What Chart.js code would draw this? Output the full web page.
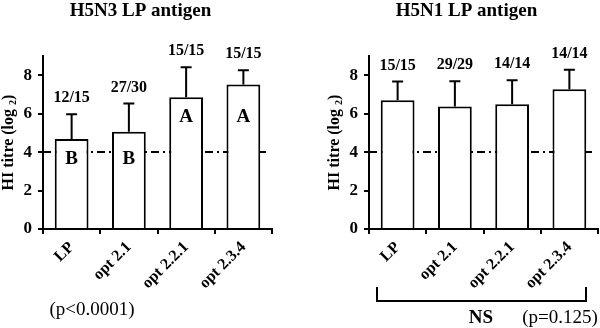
<!DOCTYPE html>
<html><head><meta charset="utf-8">
<script src="https://cdn.jsdelivr.net/npm/chart.js@4/dist/chart.umd.min.js"></script>
<style>
html,body{margin:0;padding:0;background:#fff;width:600px;height:328px;overflow:hidden}
canvas{position:absolute;top:0}
#c1{left:0}
#c2{left:300px}
</style></head><body>
<canvas id="c1" width="300" height="328"></canvas>
<canvas id="c2" width="300" height="328"></canvas>
<script>
// ---- data ----
const categories = ['LP', 'opt 2.1', 'opt 2.2.1', 'opt 2.3.4'];
const h5n3Means = [4.68, 5.06, 6.86, 7.52];
const h5n3SD = [1.29, 1.47, 1.56, 0.74];
const h5n3Responders = ['12/15', '27/30', '15/15', '15/15'];
const h5n3Groups = ['B', 'B', 'A', 'A'];
const h5n1Means = [6.70, 6.37, 6.49, 7.27];
const h5n1SD = [0.97, 1.32, 1.25, 1.01];
const h5n1Responders = ['15/15', '29/29', '14/14', '14/14'];
const h5n1Groups = ['', '', '', ''];
const yTicks = [0, 2, 4, 6, 8];
const yMax = 9;
const cutoff = 4;

const SERIF = "'Liberation Serif','Times New Roman',serif";

function annotPlugin(cfg) {
  return {
    id: 'annot',
    beforeDatasetsDraw(chart) {
      const { ctx, chartArea: a, scales: { y } } = chart;
      const py = y.getPixelForValue(cutoff);
      ctx.save();
      ctx.strokeStyle = '#000';
      ctx.lineWidth = 2;
      ctx.setLineDash([8, 4, 2, 4]);
      ctx.beginPath();
      ctx.moveTo(a.left, py);
      ctx.lineTo(a.right - 6, py);
      ctx.stroke();
      ctx.restore();
    },
    afterDatasetsDraw(chart) {
      const { ctx, chartArea: a, scales: { x, y } } = chart;
      const meta = chart.getDatasetMeta(0);
      ctx.save();
      ctx.strokeStyle = '#000';
      ctx.fillStyle = '#000';
      ctx.lineWidth = 2;
      // error bars + responder labels
      cfg.means.forEach((m, i) => {
        const cx = meta.data[i].x;
        const top = y.getPixelForValue(m);
        const et = y.getPixelForValue(m + cfg.sd[i]);
        ctx.beginPath();
        ctx.moveTo(cx, top);
        ctx.lineTo(cx, et);
        ctx.moveTo(cx - 5.5, et);
        ctx.lineTo(cx + 5.5, et);
        ctx.stroke();
        ctx.font = `bold 16px ${SERIF}`;
        ctx.textAlign = 'center';
        ctx.textBaseline = 'middle';
        ctx.fillText(cfg.responders[i], cx, et - 16);
      });
      // group letters
      const groups = {};
      cfg.groups.forEach((g, i) => {
        if (!g) return;
        const top = y.getPixelForValue(cfg.means[i]);
        groups[g] = Math.max(groups[g] || 0, top);
      });
      ctx.font = `bold 19px ${SERIF}`;
      ctx.textAlign = 'center';
      ctx.textBaseline = 'middle';
      cfg.groups.forEach((g, i) => {
        if (!g) return;
        ctx.fillText(g, meta.data[i].x, groups[g] + 20);
      });
      // title
      ctx.font = `bold 19px ${SERIF}`;
      ctx.textBaseline = 'alphabetic';
      ctx.fillText(cfg.title, (a.left + a.right) / 2 - 17, 16);
      // y title with subscript
      ctx.save();
      ctx.translate(a.left - 34, (a.top + a.bottom) / 2);
      ctx.rotate(-Math.PI / 2);
      ctx.textAlign = 'left';
      ctx.textBaseline = 'middle';
      ctx.font = `bold 16px ${SERIF}`;
      const t1 = 'HI titre (log ', t3 = ')';
      const w1 = ctx.measureText(t1).width, w3 = ctx.measureText(t3).width;
      ctx.font = `bold 10px ${SERIF}`;
      const w2 = ctx.measureText('2').width;
      let sx = -(w1 + w2 + w3) / 2;
      ctx.font = `bold 16px ${SERIF}`;
      ctx.fillText(t1, sx, 0);
      ctx.font = `bold 10px ${SERIF}`;
      ctx.fillText('2', sx + w1, 4);
      ctx.font = `bold 16px ${SERIF}`;
      ctx.fillText(t3, sx + w1 + w2, 0);
      ctx.restore();
      if (cfg.extra) cfg.extra(ctx, chart);
      ctx.restore();
    }
  };
}

function makeChart(id, cfg) {
  return new Chart(document.getElementById(id), {
    type: 'bar',
    data: {
      labels: categories,
      datasets: [{
        data: cfg.means,
        backgroundColor: '#fff',
        borderColor: '#000',
        borderWidth: 2,
        barPercentage: 0.59,
        categoryPercentage: 1
      }]
    },
    options: {
      responsive: false,
      animation: false,
      devicePixelRatio: 1,
      layout: { padding: { top: 56, right: cfg.padRight, left: 0, bottom: 0 } },
      plugins: { legend: { display: false }, tooltip: { enabled: false } },
      scales: {
        x: {
          offset: true,
          grid: { offset: true, drawOnChartArea: false, drawTicks: true, tickLength: 5, color: '#000', lineWidth: 2 },
          border: { color: '#000', width: 2 },
          ticks: {
            color: '#000', font: { family: SERIF, weight: 'bold', size: 16 },
            minRotation: 45, maxRotation: 45, autoSkip: false, padding: 4
          },
          afterFit(s) { s.height = 99; }
        },
        y: {
          min: 0, max: yMax,
          grid: { drawOnChartArea: false, drawTicks: true, tickLength: 5, color: '#000', lineWidth: 2 },
          border: { color: '#000', width: 2 },
          ticks: { color: '#000', font: { family: SERIF, weight: 'bold', size: 17 }, padding: 6 },
          afterBuildTicks(s) { s.ticks = yTicks.map(v => ({ value: v })); },
          afterFit(s) { s.width = cfg.yWidth; }
        }
      }
    },
    plugins: [annotPlugin(cfg)]
  });
}

makeChart('c1', {
  means: h5n3Means, sd: h5n3SD, responders: h5n3Responders, groups: h5n3Groups,
  title: 'H5N3 LP antigen', yWidth: 43, padRight: 28,
  extra(ctx) {
    ctx.font = `19px ${SERIF}`;
    ctx.textAlign = 'center';
    ctx.textBaseline = 'middle';
    ctx.fillText('(p<0.0001)', 92, 310);
  }
});

makeChart('c2', {
  means: h5n1Means, sd: h5n1SD, responders: h5n1Responders, groups: h5n1Groups,
  title: 'H5N1 LP antigen', yWidth: 69, padRight: 2,
  extra(ctx) {
    ctx.lineWidth = 2;
    ctx.strokeStyle = '#000';
    ctx.beginPath();
    ctx.moveTo(77, 287);
    ctx.lineTo(77, 301);
    ctx.lineTo(286, 301);
    ctx.lineTo(286, 287);
    ctx.stroke();
    ctx.font = `bold 19px ${SERIF}`;
    ctx.textAlign = 'center';
    ctx.textBaseline = 'middle';
    ctx.fillText('NS', 181, 318);
    ctx.font = `19px ${SERIF}`;
    ctx.fillText('(p=0.125)', 260, 318);
  }
});
</script>
</body></html>
